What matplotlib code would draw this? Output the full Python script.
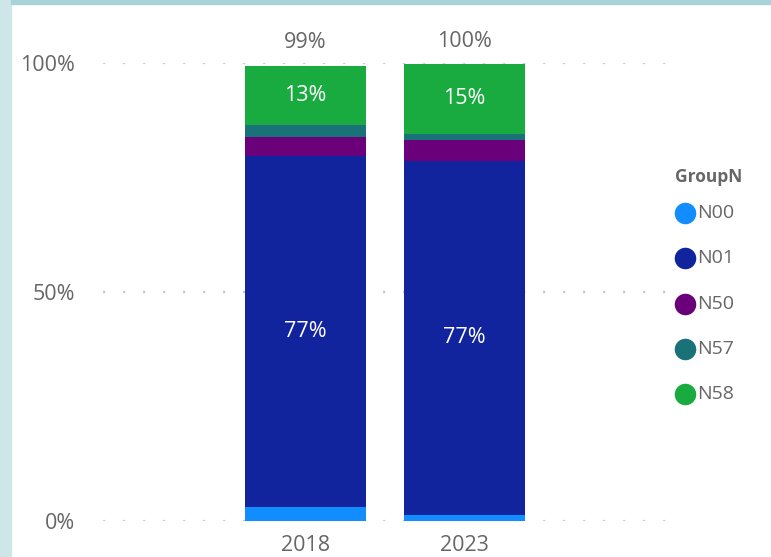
import numpy as np
import matplotlib
matplotlib.use("Agg")
import matplotlib.pyplot as plt
from matplotlib.patches import Rectangle

# data (share of total, %)
years = ["2018", "2023"]
groups = ["N00", "N01", "N50", "N57", "N58"]
n00 = [3.0, 1.3]
n01 = [76.7, 77.4]
n50 = [4.2, 4.4]
n57 = [2.5, 1.5]
n58 = [13.0, 15.2]
labelled = ["N01", "N58"]  # segments that carry a data label
colors = ["#118DFF", "#12239E", "#6B007B", "#197278", "#1AAB40"]

TXT = "#666666"
FONT = ["Open Sans", "DejaVu Sans"]
plt.rcParams["font.family"] = FONT

W, H = 771, 557
fig = plt.figure(figsize=(W / 100, H / 100), dpi=100)
fig.patch.set_facecolor("white")

# frame strips
fig.add_artist(Rectangle((0, 0), 11 / W, 1, transform=fig.transFigure,
                         color="#cfe6e8", zorder=0))
fig.add_artist(Rectangle((11 / W, 1 - 4 / H), 1, 4 / H, transform=fig.transFigure,
                         color="#a8d4d9", zorder=0))

ax = fig.add_axes([103 / W, 36 / H, 565 / W, 458 / H])
ax.set_facecolor("none")

series = [n00, n01, n50, n57, n58]
x = np.arange(len(years))
bottom = np.zeros(len(years))
for name, vals, col in zip(groups, series, colors):
    vals = np.array(vals) / 100.0
    ax.bar(x, vals, width=0.76, bottom=bottom, color=col, zorder=3)
    if name in labelled:
        for xi, b, v in zip(x, bottom, vals):
            ax.text(xi, b + v / 2, f"{round(v * 100)}%", ha="center", va="center",
                    color="white", fontsize=15.5, zorder=4)
    bottom = bottom + vals

for xi, t in zip(x, bottom):
    ax.text(xi, t + 0.05, f"{round(t * 100)}%", ha="center", va="center",
            color=TXT, fontsize=15.5)

ax.set_xlim(-1.274, 2.28)
ax.set_ylim(0, 1)
ax.set_yticks([0, 0.5, 1.0])
ax.set_yticklabels(["0%", "50%", "100%"])
ax.set_xticks(x)
ax.set_xticklabels(years)
ax.tick_params(axis="y", length=0, pad=20, labelsize=15.5, labelcolor=TXT)
ax.tick_params(axis="x", length=0, pad=10, labelsize=15.5, labelcolor=TXT)
ax.grid(axis="y", color="#c8c8c8", linestyle=(0, (1, 8)), linewidth=1.6, zorder=0)
for s in ax.spines.values():
    s.set_visible(False)

# legend
ov = fig.add_axes([0, 0, 1, 1])
ov.set_xlim(0, W)
ov.set_ylim(H, 0)
ov.axis("off")
ov.text(675, 177, "GroupN", fontsize=12.5, fontweight="bold", color=TXT,
        ha="left", va="center")
for i, (name, col) in enumerate(zip(groups, colors)):
    yy = 213 + i * 45.3
    ov.plot(685, yy, "o", markersize=14.5, color=col)
    ov.text(697, yy, name, fontsize=14, color=TXT, ha="left", va="center")

fig.savefig("out.png", dpi=100)
